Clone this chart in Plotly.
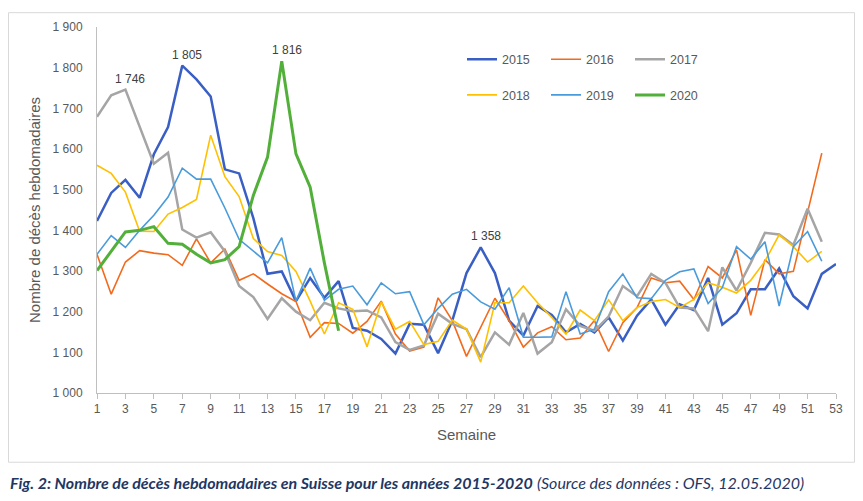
import plotly.graph_objects as go

weeks_tick = list(range(1, 54, 2))
y_ticks = [1000, 1100, 1200, 1300, 1400, 1500, 1600, 1700, 1800, 1900]
y_ticktext = ["1 000", "1 100", "1 200", "1 300", "1 400", "1 500", "1 600", "1 700", "1 800", "1 900"]

v2015 = [1423, 1492, 1524, 1480, 1587, 1654, 1805, 1771, 1729, 1550,
         1540, 1430, 1293, 1299, 1226, 1283, 1234, 1275, 1160, 1153,
         1133, 1097, 1170, 1168, 1098, 1178, 1295, 1358, 1295, 1178,
         1141, 1214, 1192, 1149, 1170, 1149, 1186, 1129, 1190, 1230,
         1168, 1218, 1204, 1283, 1168, 1196, 1255, 1255, 1306, 1238,
         1208, 1293, 1317]
v2016 = [1341, 1243, 1322, 1350, 1344, 1340, 1314, 1379, 1320, 1354,
         1277, 1293, 1268, 1244, 1225, 1137, 1173, 1171, 1147, 1176,
         1226, 1145, 1103, 1113, 1234, 1178, 1090, 1161, 1233, 1178,
         1113, 1148, 1163, 1131, 1135, 1178, 1102, 1173, 1210, 1283,
         1271, 1275, 1230, 1311, 1283, 1352, 1191, 1328, 1293, 1299,
         1445, 1590]
v2017 = [1679, 1732, 1746, 1654, 1564, 1591, 1402, 1382, 1395, 1348,
         1263, 1236, 1182, 1233, 1200, 1179, 1222, 1208, 1201, 1203,
         1186, 1125, 1106, 1117, 1195, 1170, 1157, 1088, 1149, 1119,
         1197, 1097, 1125, 1206, 1165, 1153, 1188, 1263, 1238, 1293,
         1271, 1210, 1208, 1152, 1309, 1252, 1320, 1394, 1390, 1364,
         1453, 1372]
v2018 = [1560, 1540, 1494, 1398, 1397, 1440, 1456, 1476, 1634, 1532,
         1483, 1380, 1348, 1338, 1299, 1226, 1145, 1222, 1206, 1114,
         1224, 1157, 1176, 1119, 1127, 1179, 1157, 1076, 1222, 1222,
         1263, 1222, 1186, 1145, 1204, 1178, 1229, 1178, 1210, 1225,
         1230, 1210, 1230, 1271, 1260, 1246, 1277, 1324, 1389, 1360,
         1322, 1348]
v2019 = [1341, 1387, 1358, 1400, 1437, 1482, 1553, 1526, 1526, 1455,
         1378, 1350, 1320, 1382, 1226, 1307, 1228, 1255, 1263, 1217,
         1271, 1244, 1249, 1168, 1208, 1243, 1255, 1224, 1206, 1259,
         1137, 1137, 1138, 1249, 1145, 1157, 1249, 1293, 1234, 1232,
         1277, 1298, 1305, 1220, 1259, 1360, 1329, 1372, 1214, 1360,
         1397, 1324]
v2020 = [1301, 1348, 1396, 1400, 1409, 1368, 1366, 1341, 1320, 1328,
         1360, 1486, 1580, 1816, 1588, 1506, 1320, 1153]

series = [
    ("2015", v2015, "#3A5FC4", 2.5, "legend"),
    ("2016", v2016, "#F26B1D", 1.6, "legend"),
    ("2017", v2017, "#A5A5A5", 2.5, "legend"),
    ("2018", v2018, "#FFC000", 1.6, "legend2"),
    ("2019", v2019, "#4A9BDB", 1.6, "legend2"),
    ("2020", v2020, "#52B03A", 3.0, "legend2"),
]

peaks = [("2017", 3), ("2015", 7), ("2020", 14), ("2015", 28)]

fig = go.Figure()
for name, vals, color, w, lg in series:
    fig.add_trace(go.Scatter(
        x=list(range(1, len(vals) + 1)), y=vals, mode="lines", name=name,
        line=dict(color=color, width=w), legend=lg))

lookup = {s[0]: s[1] for s in series}
for name, wk in peaks:
    val = lookup[name][wk - 1]
    fig.add_annotation(x=wk, y=val, text=f"{val // 1000} {val % 1000:03d}",
                       showarrow=False, yshift=11, xshift=5,
                       font=dict(family="Liberation Sans", size=12, color="#404040"))

# page body has an 8px margin, so screen coords = figure coords + 8
OFF = 8
W, H = 847, 485
L, R, T, B = 89, 19, 15, 100
pw, ph = W - L - R, H - T - B


def px(x):
    return (x - OFF - L) / pw


def py(y):
    return (H - B - (y - OFF)) / ph


fig.add_shape(type="rect", xref="paper", yref="paper",
              x0=px(8.5), x1=px(854.5), y0=py(463), y1=py(8.5),
              line=dict(color="#D9D9D9", width=1), layer="below")

fig.add_annotation(xref="paper", yref="paper", x=px(8), y=py(483), xanchor="left",
                   yanchor="middle", showarrow=False,
                   text="<b><i>Fig. 2: Nombre de décès hebdomadaires en Suisse pour les années 2015-2020</i></b>"
                        " <i>(Source des données : OFS, 12.05.2020)</i>",
                   font=dict(family="Lato", size=16, color="#1F3763"))

axis_font = dict(family="Liberation Sans", size=12, color="#595959")
legend_font = dict(family="Liberation Sans", size=12.5, color="#595959")
fig.update_layout(
    width=W, height=H,
    margin=dict(l=L, r=R, t=T, b=B),
    plot_bgcolor="white", paper_bgcolor="white",
    xaxis=dict(range=[1, 53], tickvals=weeks_tick, ticks="outside", ticklen=5,
               tickcolor="#BFBFBF", showline=True, linecolor="#BFBFBF", linewidth=1,
               showgrid=False, zeroline=False, tickfont=axis_font,
               title=dict(text="Semaine", font=dict(family="Liberation Sans", size=15, color="#595959"),
                          standoff=14)),
    yaxis=dict(range=[1000, 1900], tickvals=y_ticks, ticktext=y_ticktext, ticks="outside",
               ticklen=11, tickcolor="rgba(0,0,0,0)", showline=True, linecolor="#BFBFBF",
               linewidth=1, showgrid=False, zeroline=False, tickfont=axis_font,
               title=dict(text="Nombre de décès hebdomadaires",
                          font=dict(family="Liberation Sans", size=15, color="#595959"),
                          standoff=8)),
    legend=dict(orientation="h", x=px(462), y=py(56), xanchor="left", yanchor="middle",
                entrywidth=39, entrywidthmode="pixels", font=legend_font,
                bgcolor="rgba(0,0,0,0)"),
    legend2=dict(orientation="h", x=px(462), y=py(92), xanchor="left", yanchor="middle",
                 entrywidth=39, entrywidthmode="pixels", font=legend_font,
                 bgcolor="rgba(0,0,0,0)"),
)

fig.write_html("out.html")
